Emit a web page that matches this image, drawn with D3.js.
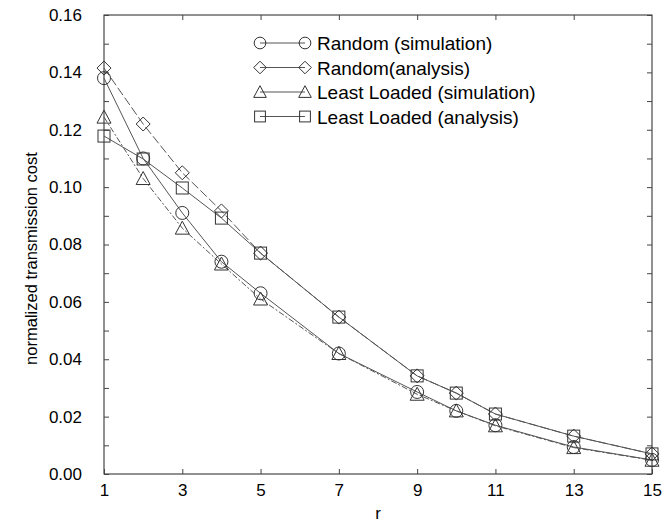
<!DOCTYPE html>
<html>
<head>
<meta charset="utf-8">
<script src="https://cdn.jsdelivr.net/npm/d3@7"></script>
<style>
  body { margin: 0; background: #fff; }
  text { font-family: "Liberation Sans", Arial, sans-serif; fill: #000; }
</style>
</head>
<body>
<script>
// r values on the x axis
var rValues = [1, 2, 3, 4, 5, 7, 9, 10, 11, 13, 15];

var randomSim = [0.138, 0.110, 0.091, 0.074, 0.063, 0.042, 0.0286, 0.022, 0.017, 0.0094, 0.0049];
var randomAna = [0.1415, 0.122, 0.105, 0.0917, 0.0770, 0.0547, 0.0342, 0.0282, 0.0209, 0.0132, 0.0070];
var leastSim = [0.1244, 0.103, 0.0857, 0.0732, 0.061, 0.0420, 0.0278, 0.0220, 0.0168, 0.0092, 0.0048];
var leastAna = [0.1178, 0.1098, 0.0997, 0.0892, 0.0770, 0.0547, 0.0342, 0.0282, 0.0209, 0.0132, 0.0070];

var xTicks = [1, 3, 5, 7, 9, 11, 13, 15];
var yTicks = [0, 0.02, 0.04, 0.06, 0.08, 0.10, 0.12, 0.14, 0.16];
var yMinor = d3.range(0, 0.1601, 0.01);

var series = [
  { name: "Random (simulation)", vals: randomSim, sym: "circle", dash: null },
  { name: "Random(analysis)", vals: randomAna, sym: "diamond", dash: "9,3" },
  { name: "Least Loaded (simulation)", vals: leastSim, sym: "triangle", dash: "6,2,2,2" },
  { name: "Least Loaded (analysis)", vals: leastAna, sym: "square", dash: null }
];

var width = 671, height = 525;
var margin = { left: 104, right: 19, top: 15, bottom: 51 };

var svg = d3.select("body").append("svg")
  .attr("width", width)
  .attr("height", height);

var x = d3.scaleLinear().domain([1, 15]).range([margin.left, width - margin.right]);
var y = d3.scaleLinear().domain([0, 0.16]).range([height - margin.bottom, margin.top]);

// frame
svg.append("rect")
  .attr("x", x(1)).attr("y", y(0.16))
  .attr("width", x(15) - x(1)).attr("height", y(0) - y(0.16))
  .attr("fill", "none").attr("stroke", "#222").attr("stroke-width", 1);

// axes, ticks pointing inward
var axB = d3.axisBottom(x).tickValues(xTicks).tickSize(-5).tickPadding(10).tickFormat(d3.format("d"));
svg.append("g")
  .attr("transform", "translate(0," + y(0) + ")")
  .call(axB)
  .call(g => g.select(".domain").remove());

var axT = d3.axisTop(x).tickValues(xTicks.slice(1, -1)).tickSize(-5).tickFormat("");
svg.append("g")
  .attr("transform", "translate(0," + y(0.16) + ")")
  .call(axT)
  .call(g => g.select(".domain").remove());

var axL = d3.axisLeft(y).tickValues(yTicks).tickSize(0).tickPadding(22).tickFormat(d3.format(".2f"));
svg.append("g")
  .attr("transform", "translate(" + x(1) + ",0)")
  .call(axL)
  .call(g => g.select(".domain").remove());

svg.append("g")
  .attr("transform", "translate(" + x(1) + ",0)")
  .call(d3.axisLeft(y).tickValues(yMinor).tickSize(-5).tickFormat(""))
  .call(g => g.select(".domain").remove());
svg.append("g")
  .attr("transform", "translate(" + x(15) + ",0)")
  .call(d3.axisRight(y).tickValues(yMinor).tickSize(-5).tickFormat(""))
  .call(g => g.select(".domain").remove());

svg.selectAll(".tick text").style("font-size", "17px").attr("fill", "#000");
svg.selectAll(".tick line").attr("stroke", "#444");

// axis titles
svg.append("text")
  .attr("transform", "translate(37," + ((y(0) + y(0.16)) / 2 + 14) + ") rotate(-90)")
  .attr("text-anchor", "middle")
  .style("font-size", "16.5px")
  .text("normalized transmission cost");

svg.append("text")
  .attr("x", (x(1) + x(15)) / 2)
  .attr("y", 519)
  .attr("text-anchor", "middle")
  .style("font-size", "17px")
  .text("r");

// marker shapes
function marker(g, sym, cx, cy, k) {
  k = k || 1;
  var s;
  if (sym == "circle") {
    s = g.append("circle").attr("cx", cx).attr("cy", cy).attr("r", 6.5 * k);
  } else if (sym == "square") {
    s = g.append("rect").attr("x", cx - 6 * k).attr("y", cy - 6 * k).attr("width", 12 * k).attr("height", 12 * k);
  } else if (sym == "triangle") {
    s = g.append("path").attr("d", "M" + cx + "," + (cy - 7 * k) + "L" + (cx + 7 * k) + "," + (cy + 6 * k) + "L" + (cx - 7 * k) + "," + (cy + 6 * k) + "Z");
  } else {
    s = g.append("path").attr("d", "M" + cx + "," + (cy - 7 * k) + "L" + (cx + 7 * k) + "," + cy + "L" + cx + "," + (cy + 7 * k) + "L" + (cx - 7 * k) + "," + cy + "Z");
  }
  s.attr("fill", "none").attr("stroke", "#333").attr("stroke-width", 1);
}

var line = d3.line()
  .x((d, i) => x(rValues[i]))
  .y(d => y(d));

series.forEach(function (s) {
  svg.append("path")
    .datum(s.vals)
    .attr("fill", "none")
    .attr("stroke", "#555")
    .attr("stroke-width", 1)
    .attr("stroke-dasharray", s.dash)
    .attr("d", line);
  var g = svg.append("g");
  s.vals.forEach(function (v, i) {
    marker(g, s.sym, x(rValues[i]), y(v));
  });
});

// legend
var leg = svg.append("g");
series.forEach(function (s, i) {
  var ly = 43 + i * 24.5;
  leg.append("line")
    .attr("x1", 260).attr("x2", 305)
    .attr("y1", ly).attr("y2", ly)
    .attr("stroke", "#555");
  marker(leg, s.sym, 260, ly, 0.9);
  marker(leg, s.sym, 305, ly, 0.9);
  leg.append("text")
    .attr("x", 317).attr("y", ly + 7)
    .style("font-size", "19px")
    .text(s.name);
});
</script>
</body>
</html>
